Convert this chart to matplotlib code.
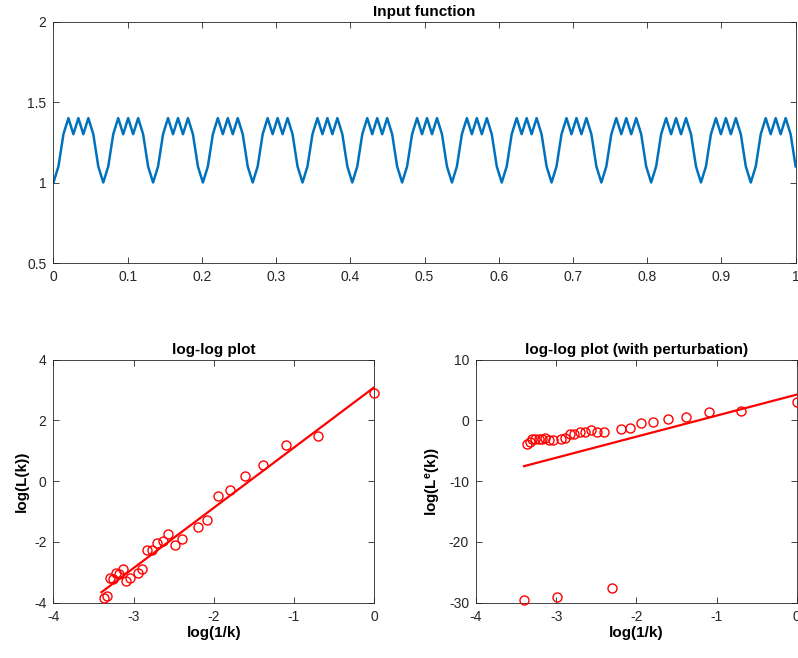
import numpy as np
import matplotlib
matplotlib.use('Agg')
import matplotlib.pyplot as plt
from matplotlib.ticker import FuncFormatter

plt.rcParams['font.family'] = ['Liberation Sans', 'DejaVu Sans']
plt.rcParams['axes.unicode_minus'] = False
plt.rcParams['mathtext.fontset'] = 'custom'
plt.rcParams['mathtext.bf'] = 'Liberation Sans:bold'
plt.rcParams['mathtext.rm'] = 'Liberation Sans'

# ---------- data ----------
# input function: one period (10 samples), repeated over 150 samples on [0, 1]
N_SAMPLES = 150
period_values = [1.0, 1.1, 1.3, 1.4, 1.3, 1.4, 1.3, 1.4, 1.3, 1.1]

# log-log plot: k = 1..29 (k = 10, 20, 30 not shown -> log(0))
k_plain = [1, 2, 3, 4, 5, 6, 7, 8, 9, 11, 12, 13, 14, 15, 16, 17, 18, 19,
           21, 22, 23, 24, 25, 26, 27, 28, 29]
logL_plain = [2.90, 1.50, 1.19, 0.52, 0.17, -0.29, -0.49, -1.28, -1.52,
              -1.90, -2.10, -1.74, -1.98, -2.03, -2.25, -2.27, -2.90, -3.02,
              -3.20, -3.28, -2.88, -3.07, -3.03, -3.21, -3.20, -3.78, -3.86]
fit_plain = (1.98, 3.08)   # slope, intercept

# with perturbation: k = 1..30
k_pert = list(range(1, 31))
logL_pert = [2.97, 1.60, 1.32, 0.60, 0.23, -0.24, -0.45, -1.26, -1.42,
             -27.6, -1.92, -1.98, -1.65, -1.92, -1.98, -2.2, -2.2, -2.9,
             -3.0, -29.0, -3.2, -3.3, -2.9, -3.1, -3.0, -3.1, -3.1, -3.6,
             -3.85, -29.6]
fit_pert = (3.46, 4.23)
K_FIT = list(range(1, 31))

BLUE = (0, 0.447, 0.741)
AXC = '#262626'


def style(ax):
    ax.tick_params(direction='in', top=True, right=True, length=4,
                   width=0.6, colors=AXC, labelsize=10, pad=5)
    for s in ax.spines.values():
        s.set_linewidth(0.6)
        s.set_color(AXC)
    ax.xaxis.set_major_formatter(FuncFormatter(lambda v, _: f'{v:g}'))
    ax.yaxis.set_major_formatter(FuncFormatter(lambda v, _: f'{v:g}'))


fig = plt.figure(figsize=(7.98, 6.58), dpi=100)

# top: input function
ax0 = fig.add_axes([0.067, 0.6003, 0.930, 0.367])
x = np.linspace(0, 1, N_SAMPLES)
y = np.resize(period_values, N_SAMPLES)
ax0.plot(x, y, color=BLUE, lw=1.8)
ax0.set_xlim(0, 1)
ax0.set_ylim(0.5, 2)
ax0.set_xticks(np.arange(0, 1.01, 0.1))
ax0.set_yticks([0.5, 1, 1.5, 2])
ax0.set_title('Input function', fontsize=11, fontweight='bold', pad=4)
style(ax0)


def loglog_panel(ax, k, vals, fit, ylim, yticks, ylabel, title):
    lx = np.log(1.0 / np.array(k))
    ax.plot(lx, vals, 'o', mfc='none', mec='red', ms=6.5, mew=1.0,
            clip_on=False, zorder=3)
    fx = np.log(1.0 / np.array(K_FIT))
    ax.plot(fx, fit[0] * fx + fit[1], color='red', lw=1.6)
    ax.set_xlim(-4, 0)
    ax.set_ylim(*ylim)
    ax.set_xticks([-4, -3, -2, -1, 0])
    ax.set_yticks(yticks)
    ax.set_xlabel('log(1/k)', fontsize=11, fontweight='bold', labelpad=2)
    ax.set_ylabel(ylabel, fontsize=11, fontweight='bold', labelpad=4)
    ax.set_title(title, fontsize=11, fontweight='bold', pad=4)
    style(ax)


ax1 = fig.add_axes([0.067, 0.0840, 0.4016, 0.3696])
loglog_panel(ax1, k_plain, logL_plain, fit_plain, (-4, 4), [-4, -2, 0, 2, 4],
             'log(L(k))', 'log-log plot')

ax2 = fig.add_axes([0.5965, 0.0840, 0.4019, 0.3696])
loglog_panel(ax2, k_pert, logL_pert, fit_pert, (-30, 10), [-30, -20, -10, 0, 10],
             r'$\mathbf{log(L^{e}(k))}$', 'log-log plot (with perturbation)')

fig.savefig('out.png', dpi=100)
